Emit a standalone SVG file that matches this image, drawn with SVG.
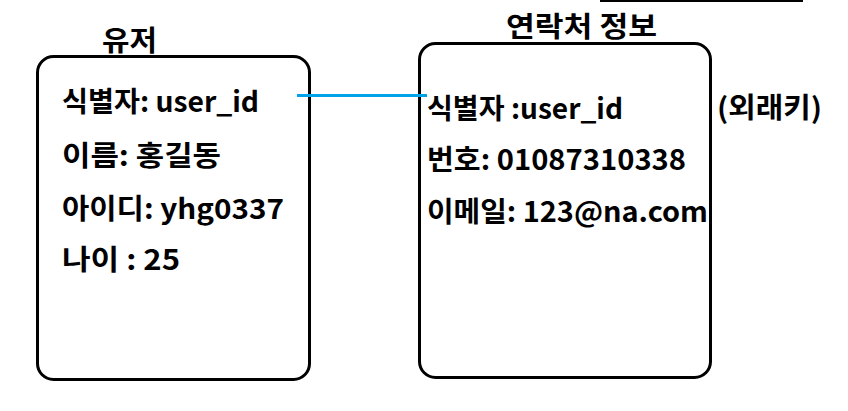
<svg xmlns="http://www.w3.org/2000/svg" width="848" height="411" viewBox="0 0 848 411">
<style>
.box{fill:#fff;stroke:#000;stroke-width:3}
.t{font-family:"Malgun Gothic","Noto Sans CJK KR",sans-serif;font-weight:bold;font-size:28px;fill:#000}
.conn{stroke:#00A2E8;stroke-width:3;fill:none}
</style>
<rect width="848" height="411" fill="#fff"/>
<line x1="600" y1="1" x2="803" y2="1" stroke="#000" stroke-width="2"/>
<g id="user">
<rect class="box" x="37.5" y="56.5" width="272" height="323" rx="16"/>
<text class="t" x="102" y="51" textLength="55" lengthAdjust="spacingAndGlyphs">유저</text>
<text class="t" x="62" y="112" textLength="197" lengthAdjust="spacingAndGlyphs">식별자: user_id</text>
<text class="t" x="62" y="166" textLength="159" lengthAdjust="spacingAndGlyphs">이름: 홍길동</text>
<text class="t" x="62" y="219" textLength="222" lengthAdjust="spacingAndGlyphs">아이디: yhg0337</text>
<text class="t" x="62" y="270" textLength="118" lengthAdjust="spacingAndGlyphs">나이 : 25</text>
</g>
<g id="contact">
<rect class="box" x="419.5" y="43.5" width="291" height="334" rx="16"/>
<text class="t" x="506" y="37" textLength="151" lengthAdjust="spacingAndGlyphs">연락처 정보</text>
<text class="t" x="427" y="119" textLength="196" lengthAdjust="spacingAndGlyphs">식별자 :user_id</text>
<text class="t" x="427" y="170" textLength="259" lengthAdjust="spacingAndGlyphs">번호: 01087310338</text>
<text class="t" x="427" y="222" textLength="281" lengthAdjust="spacingAndGlyphs">이메일: 123@na.com</text>
</g>
<g id="fk-note">
<text class="t" x="717" y="118" textLength="105" lengthAdjust="spacingAndGlyphs">(외래키)</text>
</g>
<g id="connectors">
<line class="conn" x1="297" y1="95.5" x2="427" y2="95.5"/>
</g>
</svg>
